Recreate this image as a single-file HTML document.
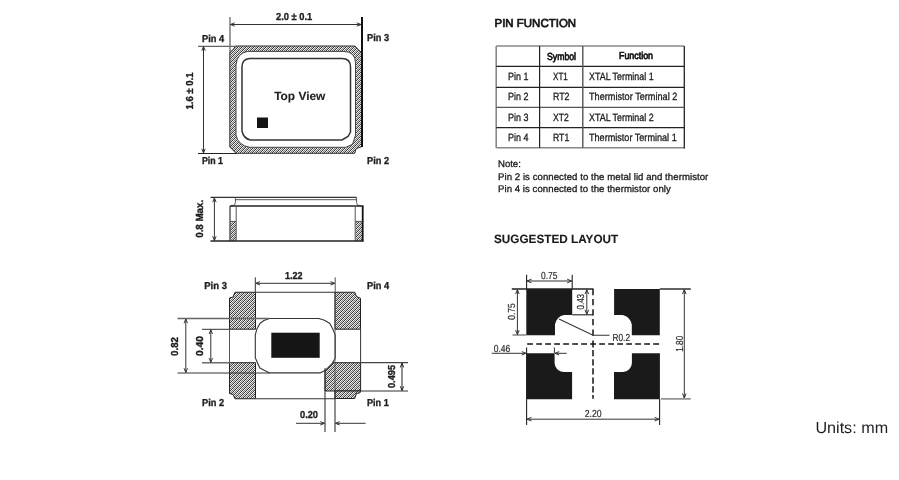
<!DOCTYPE html>
<html><head><meta charset="utf-8">
<style>
html,body{margin:0;padding:0;background:#fff;width:899px;height:480px;overflow:hidden}
svg{display:block;will-change:transform}
text{font-family:"Liberation Sans",sans-serif;text-rendering:geometricPrecision}
</style></head><body>
<svg width="899" height="480" viewBox="0 0 899 480">
<defs><pattern id="h" patternUnits="userSpaceOnUse" x="0" y="0" width="4" height="4"><path shape-rendering="crispEdges" fill="#383838" d="M0,0h1v1h-1zM3,1h1v1h-1zM2,2h1v1h-1zM1,3h1v1h-1z"/><path shape-rendering="crispEdges" fill="#f4f4f4" d="M1,0h1v1h-1zM0,1h1v1h-1zM3,2h1v1h-1zM2,3h1v1h-1z"/><path shape-rendering="crispEdges" fill="#7a7a7a" d="M2,0h1v1h-1zM1,1h1v1h-1zM0,2h1v1h-1zM3,3h1v1h-1z"/><path shape-rendering="crispEdges" fill="#d4d4d4" d="M3,0h1v1h-1zM2,1h1v1h-1zM1,2h1v1h-1zM0,3h1v1h-1z"/></pattern></defs>
<path fill="url(#h)" fill-rule="evenodd" stroke="none" d="M235.5,46 L355,46 Q358,49.5 362,53 L362,146.6 Q357,148 355.9,149 L354.75,153.3 L236,153.3 L229.8,147 L229.8,52 Q233,51 235.5,46 Z M247.75,51.4 L343,51.4 Q355.5,51.4 355.5,63 L355.5,135 L352.5,144.3 L345.75,147.3 L250,147.3 Q238,145.5 236,135 L236,65 Q237,53 247.75,51.4 Z"/>
<path d="M247.75,51.4 L343,51.4 Q355.5,51.4 355.5,63 L355.5,135 L352.5,144.3 L345.75,147.3 L250,147.3 Q238,145.5 236,135 L236,65 Q237,53 247.75,51.4 Z" fill="none" stroke="#444" stroke-width="1"/>
<path d="M235.5,46 L355,46 Q358,49.5 362,53 L362,146.6 Q357,148 355.9,149 L354.75,153.3 L236,153.3 L229.8,147 L229.8,52 Q233,51 235.5,46 Z" fill="none" stroke="#333" stroke-width="1"/>
<line x1="230" y1="17" x2="230" y2="52" stroke="#666" stroke-width="1.3" />
<line x1="362" y1="17" x2="362" y2="147" stroke="#111" stroke-width="2" />
<line x1="198" y1="46.4" x2="236" y2="46.4" stroke="#666" stroke-width="1.3" />
<line x1="198" y1="153.5" x2="236" y2="153.5" stroke="#222" stroke-width="1.2" />
<path d="M249.5,58.4 L342,58.4 Q350.5,58.4 350.5,67 L350.5,132 L348,136.5 L342,140 L250.4,140 Q243.5,138.5 242,131 L242,66.5 Q242.5,59 249.5,58.4 Z" fill="none" stroke="#333" stroke-width="1.5"/>
<rect x="257" y="117.5" width="11" height="10.5" fill="#151515"/>
<line x1="230.5" y1="24.5" x2="361" y2="24.5" stroke="#333" stroke-width="1" />
<path d="M234.7,22.8 L230.5,24.5 L234.7,26.2 M356.8,22.8 L361,24.5 L356.8,26.2" fill="none" stroke="#333" stroke-width="1"/>
<line x1="203.5" y1="46.5" x2="203.5" y2="153" stroke="#333" stroke-width="1" />
<path d="M201.8,50.7 L203.5,46.5 L205.2,50.7 M201.8,148.8 L203.5,153 L205.2,148.8" fill="none" stroke="#333" stroke-width="1"/>
<text x="274.2" y="99.9" font-size="11.8" font-weight="bold" fill="#1e1e1e" textLength="51.2" lengthAdjust="spacingAndGlyphs"  stroke="#1e1e1e" stroke-width="0.1">Top View</text>
<text x="276" y="19.7" font-size="10.1" font-weight="bold" fill="#1e1e1e" textLength="36.2" lengthAdjust="spacingAndGlyphs"  stroke="#1e1e1e" stroke-width="0.35">2.0 ± 0.1</text>
<text x="202" y="41.5" font-size="10.1" font-weight="bold" fill="#1e1e1e" textLength="22" lengthAdjust="spacingAndGlyphs"  stroke="#1e1e1e" stroke-width="0.35">Pin 4</text>
<text x="367" y="41.4" font-size="10.1" font-weight="bold" fill="#1e1e1e" textLength="22" lengthAdjust="spacingAndGlyphs"  stroke="#1e1e1e" stroke-width="0.35">Pin 3</text>
<text x="202" y="163.7" font-size="10.1" font-weight="bold" fill="#1e1e1e" textLength="21" lengthAdjust="spacingAndGlyphs"  stroke="#1e1e1e" stroke-width="0.35">Pin 1</text>
<text x="367" y="163.7" font-size="10.1" font-weight="bold" fill="#1e1e1e" textLength="22" lengthAdjust="spacingAndGlyphs"  stroke="#1e1e1e" stroke-width="0.35">Pin 2</text>
<text transform="translate(192.6,109.6) rotate(-90)" font-size="10.1" font-weight="bold" fill="#1e1e1e" textLength="37.2" lengthAdjust="spacingAndGlyphs"  stroke="#1e1e1e" stroke-width="0.35">1.6 ± 0.1</text>
<rect x="230.5" y="221.4" width="5.5" height="19.5" fill="url(#h)"/>
<rect x="355.5" y="221.4" width="6.5" height="19.5" fill="url(#h)"/>
<line x1="210.5" y1="197.3" x2="356.6" y2="197.3" stroke="#333" stroke-width="1.2" />
<line x1="235.5" y1="199.7" x2="356.6" y2="199.7" stroke="#555" stroke-width="1" />
<path d="M235.4,197.3 L235.4,202.5 Q235.4,205.6 231,206 M356.6,197.3 L356.6,202.5 Q356.6,205.6 361,206" fill="none" stroke="#555" stroke-width="1"/>
<line x1="230" y1="206" x2="363.5" y2="206" stroke="#222" stroke-width="1.3" />
<line x1="230" y1="206" x2="230" y2="241" stroke="#222" stroke-width="1.1" />
<line x1="236.2" y1="206" x2="236.2" y2="241" stroke="#555" stroke-width="1" />
<line x1="355.2" y1="206" x2="355.2" y2="241" stroke="#555" stroke-width="1" />
<line x1="362.7" y1="206" x2="362.7" y2="241.5" stroke="#111" stroke-width="1.8" />
<line x1="230" y1="221.4" x2="236" y2="221.4" stroke="#555" stroke-width="1" />
<line x1="355" y1="221.4" x2="362" y2="221.4" stroke="#555" stroke-width="1" />
<line x1="210.5" y1="241" x2="363.5" y2="241" stroke="#222" stroke-width="1.3" />
<line x1="214.4" y1="198" x2="214.4" y2="240.5" stroke="#333" stroke-width="1" />
<path d="M212.70000000000002,202.2 L214.4,198 L216.1,202.2 M212.70000000000002,236.3 L214.4,240.5 L216.1,236.3" fill="none" stroke="#333" stroke-width="1"/>
<text transform="translate(202.5,237.8) rotate(-90)" font-size="10.3" font-weight="bold" fill="#1e1e1e" textLength="38" lengthAdjust="spacingAndGlyphs"  stroke="#1e1e1e" stroke-width="0.35">0.8 Max.</text>
<path fill="url(#h)" stroke="#222" stroke-width="1" d="M235,292.25 L255.5,292.25 L255.5,329.2 L229.5,329.2 L229.5,298 L233,297 Z"/>
<path fill="url(#h)" stroke="#222" stroke-width="1" d="M335,292.25 L354.75,292.25 L356.5,296.5 L360.5,298.25 L360.5,329.2 L335,329.2 Z"/>
<path fill="url(#h)" stroke="#222" stroke-width="1" d="M229.5,362.7 L255.5,362.7 L255.5,398.75 L235,398.75 L233,394.5 L229.5,393.5 Z"/>
<path fill="url(#h)" stroke="#222" stroke-width="1" d="M325,362.7 L360.6,362.7 L360.6,391 L325,391 Z"/>
<path fill="url(#h)" stroke="#222" stroke-width="1" d="M335,391 L360.6,391 L360,392.8 L356.5,393.5 L354.7,398.5 L335,398.5 Z"/>
<line x1="255.5" y1="292.25" x2="335" y2="292.25" stroke="#333" stroke-width="1" />
<line x1="229.5" y1="329.2" x2="229.5" y2="362.7" stroke="#555" stroke-width="1" />
<line x1="360.6" y1="329.2" x2="360.6" y2="362.7" stroke="#333" stroke-width="1" />
<line x1="255.5" y1="398.75" x2="335" y2="398.75" stroke="#333" stroke-width="1.2" />
<path fill="#fff" stroke="#333" stroke-width="1.1" stroke-linejoin="round" d="M269.3,318.5 L318.9,318.5 L324.5,320.3 L329.8,323.5 L332.9,329.2 L335.2,334.9 L335.2,358.25 L331.9,364 L325.6,370.2 L319.9,372.9 L269.8,372.9 L264.6,370.5 L259.9,368.1 L257.8,363.5 L255.3,357.7 L255.3,334.9 L256.8,329.2 L259.9,323.5 L264,320.5 Z"/>
<rect x="271.3" y="332.7" width="48.4" height="25.1" fill="#151515"/>
<line x1="255.3" y1="277.3" x2="255.3" y2="292.25" stroke="#333" stroke-width="1" />
<line x1="335.2" y1="277.3" x2="335.2" y2="292.25" stroke="#555" stroke-width="1" />
<line x1="255.8" y1="283.3" x2="334.7" y2="283.3" stroke="#333" stroke-width="1" />
<path d="M260.0,281.6 L255.8,283.3 L260.0,285.0 M330.5,281.6 L334.7,283.3 L330.5,285.0" fill="none" stroke="#333" stroke-width="1"/>
<line x1="177.5" y1="318.5" x2="269.3" y2="318.5" stroke="#666" stroke-width="1.4" />
<line x1="202" y1="329.3" x2="229.5" y2="329.3" stroke="#333" stroke-width="1" />
<line x1="202" y1="362.8" x2="229.5" y2="362.8" stroke="#555" stroke-width="1.3" />
<line x1="177.5" y1="373" x2="269.8" y2="373" stroke="#333" stroke-width="1" />
<line x1="185.8" y1="319" x2="185.8" y2="372.5" stroke="#333" stroke-width="1" />
<path d="M184.10000000000002,323.2 L185.8,319 L187.5,323.2 M184.10000000000002,368.3 L185.8,372.5 L187.5,368.3" fill="none" stroke="#333" stroke-width="1"/>
<line x1="210.8" y1="329.8" x2="210.8" y2="362.3" stroke="#333" stroke-width="1" />
<path d="M209.10000000000002,334.0 L210.8,329.8 L212.5,334.0 M209.10000000000002,358.1 L210.8,362.3 L212.5,358.1" fill="none" stroke="#333" stroke-width="1"/>
<line x1="360.6" y1="362.7" x2="408" y2="362.7" stroke="#444" stroke-width="1.2" />
<line x1="360.6" y1="391" x2="408" y2="391" stroke="#333" stroke-width="1.2" />
<line x1="402" y1="363.2" x2="402" y2="390.5" stroke="#222" stroke-width="1" />
<path d="M400.3,367.4 L402,363.2 L403.7,367.4 M400.3,386.3 L402,390.5 L403.7,386.3" fill="none" stroke="#222" stroke-width="1"/>
<line x1="325" y1="368" x2="325" y2="432" stroke="#333" stroke-width="1.1" />
<line x1="335" y1="391" x2="335" y2="432" stroke="#333" stroke-width="1.1" />
<line x1="335" y1="292.25" x2="335" y2="391" stroke="#444" stroke-width="0.8" />
<line x1="296" y1="423.3" x2="324.5" y2="423.3" stroke="#333" stroke-width="1" />
<path d="M320.3,421.6 L324.5,423.3 L320.3,425.0" fill="none" stroke="#333" stroke-width="1"/>
<line x1="365.6" y1="423.3" x2="335.5" y2="423.3" stroke="#333" stroke-width="1" />
<path d="M339.7,421.6 L335.5,423.3 L339.7,425.0" fill="none" stroke="#333" stroke-width="1"/>
<text x="285" y="279.3" font-size="10.1" font-weight="bold" fill="#1e1e1e" textLength="17.5" lengthAdjust="spacingAndGlyphs"  stroke="#1e1e1e" stroke-width="0.35">1.22</text>
<text x="204.3" y="288.6" font-size="10.1" font-weight="bold" fill="#1e1e1e" textLength="22.6" lengthAdjust="spacingAndGlyphs"  stroke="#1e1e1e" stroke-width="0.35">Pin 3</text>
<text x="367" y="288.7" font-size="10.1" font-weight="bold" fill="#1e1e1e" textLength="22" lengthAdjust="spacingAndGlyphs"  stroke="#1e1e1e" stroke-width="0.35">Pin 4</text>
<text x="202" y="406.2" font-size="10.1" font-weight="bold" fill="#1e1e1e" textLength="22" lengthAdjust="spacingAndGlyphs"  stroke="#1e1e1e" stroke-width="0.35">Pin 2</text>
<text x="367" y="406.2" font-size="10.1" font-weight="bold" fill="#1e1e1e" textLength="21.7" lengthAdjust="spacingAndGlyphs"  stroke="#1e1e1e" stroke-width="0.35">Pin 1</text>
<text x="300" y="418.2" font-size="10.1" font-weight="bold" fill="#1e1e1e" textLength="18" lengthAdjust="spacingAndGlyphs"  stroke="#1e1e1e" stroke-width="0.35">0.20</text>
<text transform="translate(178.4,356) rotate(-90)" font-size="10.1" font-weight="bold" fill="#1e1e1e" textLength="19" lengthAdjust="spacingAndGlyphs"  stroke="#1e1e1e" stroke-width="0.35">0.82</text>
<text transform="translate(203.3,356) rotate(-90)" font-size="10.1" font-weight="bold" fill="#1e1e1e" textLength="20" lengthAdjust="spacingAndGlyphs"  stroke="#1e1e1e" stroke-width="0.35">0.40</text>
<text transform="translate(395.4,388) rotate(-90)" font-size="10.1" font-weight="bold" fill="#1e1e1e" textLength="23" lengthAdjust="spacingAndGlyphs"  stroke="#1e1e1e" stroke-width="0.35">0.495</text>
<text x="494.5" y="27.4" font-size="11.6" fill="#151515" textLength="81.6" lengthAdjust="spacingAndGlyphs"  stroke="#151515" stroke-width="0.7">PIN FUNCTION</text>
<line x1="496.2" y1="46" x2="684.3" y2="46" stroke="#888" stroke-width="1.5" />
<line x1="496.2" y1="46" x2="496.2" y2="147.7" stroke="#888" stroke-width="1.6" />
<line x1="496.2" y1="147.7" x2="684.3" y2="147.7" stroke="#888" stroke-width="1.5" />
<line x1="684.3" y1="46" x2="684.3" y2="148.4" stroke="#222" stroke-width="1.3" />
<line x1="496.2" y1="66.3" x2="684.3" y2="66.3" stroke="#222" stroke-width="1.3" />
<line x1="496.2" y1="87.3" x2="684.3" y2="87.3" stroke="#222" stroke-width="1.3" />
<line x1="496.2" y1="107.4" x2="684.3" y2="107.4" stroke="#555" stroke-width="1.3" />
<line x1="496.2" y1="127.7" x2="684.3" y2="127.7" stroke="#222" stroke-width="1.3" />
<line x1="539.6" y1="46" x2="539.6" y2="147.7" stroke="#222" stroke-width="1.2" />
<line x1="582.8" y1="46" x2="582.8" y2="147.7" stroke="#555" stroke-width="1.4" />
<text x="547" y="59.6" font-size="10.4" fill="#111" textLength="29" lengthAdjust="spacingAndGlyphs"  stroke="#111" stroke-width="0.7">Symbol</text>
<text x="619" y="59.3" font-size="10.2" fill="#111" textLength="34" lengthAdjust="spacingAndGlyphs"  stroke="#111" stroke-width="0.7">Function</text>
<text x="508" y="80.1" font-size="10.6" fill="#1a1a1a" textLength="20.4" lengthAdjust="spacingAndGlyphs"  stroke="#1a1a1a" stroke-width="0.3">Pin 1</text>
<text x="553" y="80.1" font-size="10.6" fill="#1a1a1a" textLength="14.8" lengthAdjust="spacingAndGlyphs"  stroke="#1a1a1a" stroke-width="0.3">XT1</text>
<text x="589" y="80.1" font-size="10.6" fill="#1a1a1a" textLength="64.6" lengthAdjust="spacingAndGlyphs"  stroke="#1a1a1a" stroke-width="0.3">XTAL Terminal 1</text>
<text x="508" y="100.4" font-size="10.6" fill="#1a1a1a" textLength="20.4" lengthAdjust="spacingAndGlyphs"  stroke="#1a1a1a" stroke-width="0.3">Pin 2</text>
<text x="553" y="100.4" font-size="10.6" fill="#1a1a1a" textLength="16.5" lengthAdjust="spacingAndGlyphs"  stroke="#1a1a1a" stroke-width="0.3">RT2</text>
<text x="589" y="100.4" font-size="10.6" fill="#1a1a1a" textLength="88.4" lengthAdjust="spacingAndGlyphs"  stroke="#1a1a1a" stroke-width="0.3">Thermistor Terminal 2</text>
<text x="508" y="120.7" font-size="10.6" fill="#1a1a1a" textLength="20.4" lengthAdjust="spacingAndGlyphs"  stroke="#1a1a1a" stroke-width="0.3">Pin 3</text>
<text x="553" y="120.7" font-size="10.6" fill="#1a1a1a" textLength="15.8" lengthAdjust="spacingAndGlyphs"  stroke="#1a1a1a" stroke-width="0.3">XT2</text>
<text x="589" y="120.7" font-size="10.6" fill="#1a1a1a" textLength="64.6" lengthAdjust="spacingAndGlyphs"  stroke="#1a1a1a" stroke-width="0.3">XTAL Terminal 2</text>
<text x="508" y="140.6" font-size="10.6" fill="#1a1a1a" textLength="20.4" lengthAdjust="spacingAndGlyphs"  stroke="#1a1a1a" stroke-width="0.3">Pin 4</text>
<text x="553" y="140.6" font-size="10.6" fill="#1a1a1a" textLength="16.2" lengthAdjust="spacingAndGlyphs"  stroke="#1a1a1a" stroke-width="0.3">RT1</text>
<text x="589" y="140.6" font-size="10.6" fill="#1a1a1a" textLength="87.7" lengthAdjust="spacingAndGlyphs"  stroke="#1a1a1a" stroke-width="0.3">Thermistor Terminal 1</text>
<text x="498" y="166.6" font-size="9.6" fill="#1a1a1a" textLength="22.8" lengthAdjust="spacing"  stroke="#1a1a1a" stroke-width="0.3">Note:</text>
<text x="498" y="180.2" font-size="9.6" fill="#1a1a1a" textLength="210.3" lengthAdjust="spacing"  stroke="#1a1a1a" stroke-width="0.3">Pin 2 is connected to the metal lid and thermistor</text>
<text x="498" y="191.9" font-size="9.6" fill="#1a1a1a" textLength="172.8" lengthAdjust="spacing"  stroke="#1a1a1a" stroke-width="0.3">Pin 4 is connected to the thermistor only</text>
<text x="494" y="242.9" font-size="12" font-weight="bold" fill="#1a1a1a" textLength="124.2" lengthAdjust="spacingAndGlyphs"  stroke="#1a1a1a" stroke-width="0.1">SUGGESTED LAYOUT</text>
<g fill="#1a1a1a">
<path d="M526.3,289.1 L572.2,289.1 L572.2,315 L564,315 Q557,316 555,324.5 L555,335.2 L526.3,335.2 Z"/>
<path d="M614.1,289.1 L659.8,289.1 L659.8,335.2 L631.8,335.2 L631.8,324.5 Q630,316.5 622.8,315 L614.1,315 Z"/>
<path d="M526.3,353.2 L554.6,353.2 L554.6,363 A9,9 0 0 0 563.6,372 L572.1,372 L572.1,399.2 L526.3,399.2 Z"/>
<path d="M631.9,353.2 L659.9,353.2 L659.9,399.2 L614,399.2 L614,372 L623,372 A9,9 0 0 0 631.9,363 Z"/>
</g>
<path d="M593,289.00V295.30M593,299.00V305.30M593,309.20V315.50M593,319.00V325.30M593,329.50V335.80M593,340.5V347.5M593,350.00V356.20M593,359.30V365.50M593,368.20V374.40M593,377.50V383.70M593,386.30V392.50M593,395.00V398.80" stroke="#151515" stroke-width="1.5" fill="none"/>
<line x1="527.2" y1="344" x2="659.5" y2="344" stroke="#151515" stroke-width="1.6" stroke-dasharray="5.8,3.2"/>
<line x1="511.8" y1="289" x2="593.5" y2="289" stroke="#222" stroke-width="1.4" />
<line x1="659.7" y1="289" x2="690.8" y2="289" stroke="#222" stroke-width="1.4" />
<line x1="512.5" y1="335" x2="526.3" y2="335" stroke="#666" stroke-width="1.2" />
<line x1="572.2" y1="314.8" x2="593" y2="314.8" stroke="#222" stroke-width="1.1" />
<line x1="661" y1="398.9" x2="690.8" y2="398.9" stroke="#777" stroke-width="1.4" />
<line x1="526.6" y1="274.8" x2="526.6" y2="289" stroke="#222" stroke-width="1.1" />
<line x1="572.2" y1="274.8" x2="572.2" y2="289" stroke="#222" stroke-width="1.1" />
<line x1="527" y1="281" x2="571.7" y2="281" stroke="#333" stroke-width="1" />
<path d="M531.5,279.2 L527,281 L531.5,282.8 M567.2,279.2 L571.7,281 L567.2,282.8" fill="none" stroke="#333" stroke-width="1"/>
<line x1="517.4" y1="289.6" x2="517.4" y2="334.6" stroke="#333" stroke-width="1" />
<path d="M515.6,294.1 L517.4,289.6 L519.1999999999999,294.1 M515.6,330.1 L517.4,334.6 L519.1999999999999,330.1" fill="none" stroke="#333" stroke-width="1"/>
<line x1="586.8" y1="289.6" x2="586.8" y2="314.3" stroke="#333" stroke-width="1" />
<path d="M585.0,294.1 L586.8,289.6 L588.5999999999999,294.1 M585.0,309.8 L586.8,314.3 L588.5999999999999,309.8" fill="none" stroke="#333" stroke-width="1"/>
<path d="M559,319 L593,335.3 L609.5,335.3" fill="none" stroke="#333" stroke-width="1.1"/>
<line x1="526.6" y1="347.5" x2="526.6" y2="425" stroke="#222" stroke-width="1.1" />
<line x1="554.4" y1="347.5" x2="554.4" y2="353.2" stroke="#333" stroke-width="1" />
<line x1="491.7" y1="353.3" x2="526" y2="353.3" stroke="#333" stroke-width="1" />
<path d="M521.8,351.6 L526,353.3 L521.8,355.0" fill="none" stroke="#333" stroke-width="1"/>
<line x1="566.7" y1="353.3" x2="555" y2="353.3" stroke="#333" stroke-width="1" />
<path d="M559.2,351.6 L555,353.3 L559.2,355.0" fill="none" stroke="#333" stroke-width="1"/>
<line x1="659.6" y1="399" x2="659.6" y2="425" stroke="#222" stroke-width="1.1" />
<line x1="527" y1="419.2" x2="659.1" y2="419.2" stroke="#333" stroke-width="1" />
<path d="M531.5,417.4 L527,419.2 L531.5,421.0 M654.6,417.4 L659.1,419.2 L654.6,421.0" fill="none" stroke="#333" stroke-width="1"/>
<line x1="684.3" y1="289.6" x2="684.3" y2="398" stroke="#333" stroke-width="1" />
<path d="M682.5,294.1 L684.3,289.6 L686.0999999999999,294.1 M682.5,393.5 L684.3,398 L686.0999999999999,393.5" fill="none" stroke="#333" stroke-width="1"/>
<text x="541" y="279.4" font-size="10.2" fill="#2a2a2a" textLength="16.4" lengthAdjust="spacingAndGlyphs"  stroke="#2a2a2a" stroke-width="0.2">0.75</text>
<text x="493.7" y="351.9" font-size="10.2" fill="#2a2a2a" textLength="16.6" lengthAdjust="spacingAndGlyphs"  stroke="#2a2a2a" stroke-width="0.2">0.46</text>
<text x="612.5" y="340.5" font-size="10.2" fill="#2a2a2a" textLength="17.5" lengthAdjust="spacingAndGlyphs"  stroke="#2a2a2a" stroke-width="0.2">R0.2</text>
<text x="584.7" y="416.5" font-size="10.2" fill="#2a2a2a" textLength="16.9" lengthAdjust="spacingAndGlyphs"  stroke="#2a2a2a" stroke-width="0.2">2.20</text>
<text transform="translate(515.1,319.8) rotate(-90)" font-size="10.2" fill="#2a2a2a" textLength="16.4" lengthAdjust="spacingAndGlyphs"  stroke="#2a2a2a" stroke-width="0.2">0.75</text>
<text transform="translate(584.3,309.5) rotate(-90)" font-size="10.2" fill="#2a2a2a" textLength="15.5" lengthAdjust="spacingAndGlyphs"  stroke="#2a2a2a" stroke-width="0.2">0.43</text>
<text transform="translate(683.3,351.7) rotate(-90)" font-size="10.2" fill="#2a2a2a" textLength="15.9" lengthAdjust="spacingAndGlyphs"  stroke="#2a2a2a" stroke-width="0.2">1.80</text>
<text x="815.4" y="433.2" font-size="15.9" fill="#221c28" textLength="72.7" lengthAdjust="spacingAndGlyphs" >Units: mm</text>
</svg>
</body></html>
